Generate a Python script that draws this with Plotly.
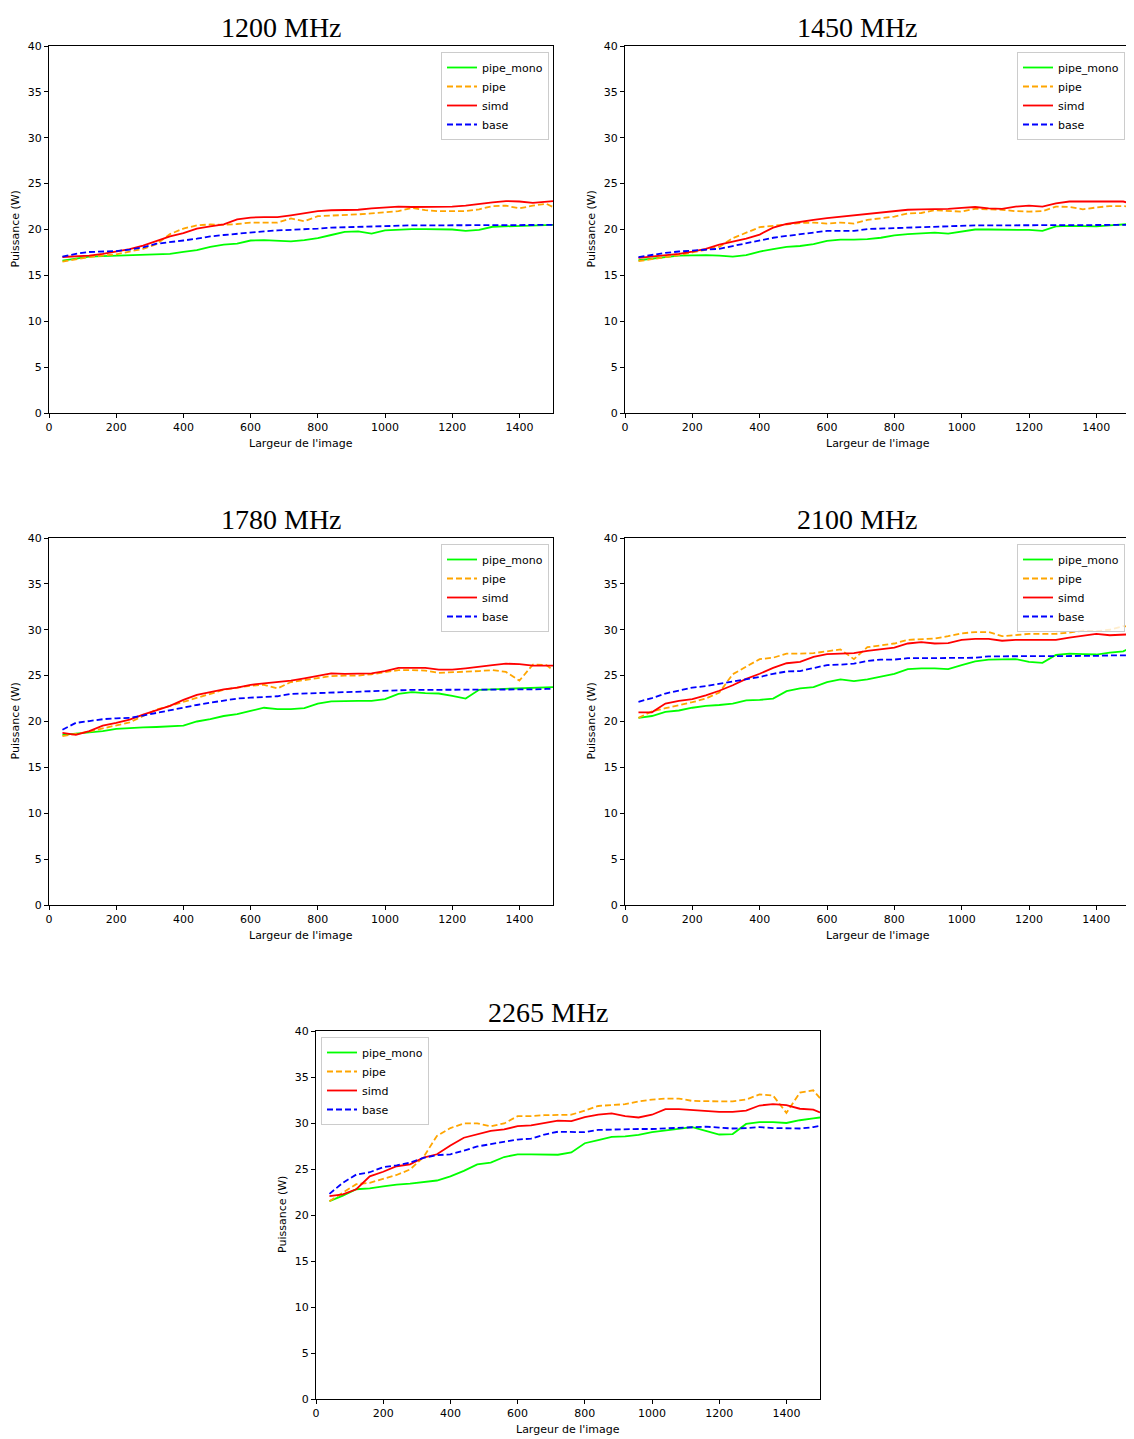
import plotly.graph_objects as go

# ---------------------------------------------------------------------------
# Données
# ---------------------------------------------------------------------------

LARGEUR = [40, 80, 120, 160, 200, 240, 280, 320, 360, 400,
           440, 480, 520, 560, 600, 640, 680, 720, 760, 800,
           840, 880, 920, 960, 1000, 1040, 1080, 1120, 1160, 1200,
           1240, 1280, 1320, 1360, 1400, 1440, 1480, 1500]

FREQUENCES = ["1200 MHz", "1450 MHz", "1780 MHz", "2100 MHz", "2265 MHz"]

PIPE_MONO_1200 = [16.6, 16.85, 17.05, 17.1, 17.15, 17.2, 17.2, 17.25, 17.35, 17.55,
                  17.75, 18.1, 18.35, 18.45, 18.8, 18.85, 18.75, 18.7, 18.85, 19.05,
                  19.4, 19.75, 19.8, 19.55, 19.9, 20.0, 20.05, 20.05, 20.05, 20.0,
                  19.85, 19.95, 20.3, 20.35, 20.35, 20.4, 20.5, 20.5]
PIPE_1200 = [16.5, 16.75, 17.0, 17.15, 17.3, 17.6, 17.9, 18.4, 19.5, 20.1,
             20.45, 20.55, 20.5, 20.6, 20.75, 20.75, 20.75, 21.2, 20.9, 21.45,
             21.5, 21.55, 21.65, 21.75, 21.9, 22.0, 22.35, 22.1, 22.0, 22.0,
             22.0, 22.2, 22.55, 22.6, 22.3, 22.6, 22.8, 22.45]
SIMD_1200 = [17.0, 17.05, 17.15, 17.35, 17.6, 17.85, 18.25, 18.75, 19.25, 19.6,
             20.1, 20.35, 20.55, 21.1, 21.3, 21.35, 21.35, 21.55, 21.8, 22.0,
             22.1, 22.15, 22.15, 22.3, 22.4, 22.5, 22.45, 22.45, 22.5, 22.5,
             22.6, 22.8, 22.95, 23.1, 23.05, 22.9, 23.05, 23.1]
BASE_1200 = [17.05, 17.35, 17.55, 17.6, 17.65, 17.8, 18.05, 18.45, 18.6, 18.8,
             19.0, 19.25, 19.4, 19.55, 19.7, 19.8, 19.9, 19.95, 20.05, 20.1,
             20.2, 20.25, 20.3, 20.35, 20.4, 20.4, 20.45, 20.45, 20.45, 20.45,
             20.45, 20.45, 20.45, 20.45, 20.45, 20.5, 20.5, 20.5]

PIPE_MONO_1450 = [16.65, 16.85, 17.0, 17.15, 17.2, 17.2, 17.15, 17.05, 17.2, 17.6,
                  17.85, 18.1, 18.2, 18.4, 18.75, 18.9, 18.9, 18.95, 19.1, 19.35,
                  19.5, 19.6, 19.65, 19.55, 19.8, 20.0, 20.0, 20.0, 20.0, 19.95,
                  19.85, 20.35, 20.4, 20.4, 20.35, 20.45, 20.55, 20.6]
PIPE_1450 = [16.55, 16.75, 16.95, 17.2, 17.5, 17.8, 18.1, 19.05, 19.65, 20.25,
             20.4, 20.55, 20.7, 20.75, 20.65, 20.75, 20.65, 21.05, 21.2, 21.4,
             21.75, 21.8, 22.1, 22.0, 21.95, 22.25, 22.2, 22.15, 22.0, 21.95,
             22.0, 22.5, 22.45, 22.2, 22.4, 22.55, 22.55, 22.5]
SIMD_1450 = [16.9, 17.05, 17.15, 17.35, 17.6, 17.9, 18.35, 18.65, 19.0, 19.45,
             20.2, 20.6, 20.85, 21.05, 21.25, 21.4, 21.55, 21.65, 21.8, 21.95,
             22.15, 22.2, 22.2, 22.25, 22.35, 22.45, 22.3, 22.25, 22.5, 22.6,
             22.5, 22.85, 23.05, 23.05, 23.1, 23.1, 23.05, 22.85]
BASE_1450 = [17.0, 17.25, 17.45, 17.6, 17.7, 17.8, 17.9, 18.2, 18.5, 18.85,
             19.1, 19.3, 19.5, 19.7, 19.85, 19.85, 19.85, 20.05, 20.1, 20.2,
             20.25, 20.3, 20.35, 20.4, 20.45, 20.45, 20.45, 20.45, 20.45, 20.45,
             20.45, 20.45, 20.45, 20.45, 20.45, 20.45, 20.45, 20.5]

PIPE_MONO_1780 = [18.55, 18.7, 18.85, 18.95, 19.2, 19.3, 19.35, 19.4, 19.45, 19.55,
                  20.0, 20.25, 20.6, 20.8, 21.15, 21.5, 21.35, 21.35, 21.45, 21.95,
                  22.2, 22.25, 22.25, 22.25, 22.45, 23.0, 23.2, 23.1, 23.05, 22.8,
                  22.5, 23.45, 23.5, 23.55, 23.6, 23.65, 23.7, 23.75]
PIPE_1780 = [18.4, 18.65, 18.9, 19.25, 19.6, 19.9, 20.6, 21.3, 21.7, 22.15,
             22.6, 23.05, 23.45, 23.7, 23.9, 24.0, 23.6, 24.3, 24.5, 24.7,
             24.95, 25.0, 25.0, 25.15, 25.4, 25.6, 25.6, 25.55, 25.3, 25.35,
             25.4, 25.5, 25.6, 25.4, 24.45, 26.2, 26.15, 25.6]
SIMD_1780 = [18.75, 18.55, 18.95, 19.55, 19.85, 20.2, 20.75, 21.2, 21.7, 22.35,
             22.9, 23.2, 23.5, 23.7, 24.0, 24.15, 24.3, 24.45, 24.7, 25.0,
             25.25, 25.2, 25.2, 25.25, 25.5, 25.85, 25.85, 25.85, 25.65, 25.65,
             25.8, 26.0, 26.15, 26.3, 26.25, 26.1, 26.1, 26.1]
BASE_1780 = [19.1, 19.85, 20.05, 20.25, 20.35, 20.4, 20.65, 20.95, 21.25, 21.5,
             21.8, 22.05, 22.25, 22.5, 22.6, 22.65, 22.75, 23.0, 23.05, 23.15,
             23.2, 23.25, 23.3, 23.3, 23.35, 23.4, 23.45, 23.45, 23.45, 23.45,
             23.45, 23.45, 23.45, 23.45, 23.45, 23.5, 23.55, 23.55]

PIPE_MONO_2100 = [20.4, 20.6, 21.05, 21.2, 21.5, 21.7, 21.8, 21.95, 22.3, 22.35,
                  22.5, 23.3, 23.6, 23.75, 24.3, 24.6, 24.4, 24.6, 24.9, 25.2,
                  25.7, 25.8, 25.8, 25.7, 26.15, 26.55, 26.75, 26.8, 26.8, 26.5,
                  26.4, 27.25, 27.4, 27.35, 27.3, 27.5, 27.65, 28.0]
PIPE_2100 = [20.4, 21.1, 21.45, 21.75, 22.1, 22.5, 23.15, 25.15, 26.0, 26.8,
             26.95, 27.4, 27.4, 27.45, 27.65, 27.85, 26.8, 28.1, 28.3, 28.5,
             28.9, 28.95, 29.05, 29.3, 29.6, 29.75, 29.75, 29.3, 29.4, 29.55,
             29.55, 29.55, 29.7, 29.9, 29.85, 30.0, 30.4, 30.3]
SIMD_2100 = [21.0, 21.0, 21.95, 22.25, 22.45, 22.85, 23.35, 23.95, 24.65, 25.2,
             25.85, 26.35, 26.5, 27.05, 27.35, 27.4, 27.45, 27.7, 27.9, 28.05,
             28.5, 28.65, 28.5, 28.55, 28.9, 29.0, 29.0, 28.8, 28.9, 28.9,
             28.9, 28.9, 29.15, 29.35, 29.55, 29.4, 29.5, 29.5]
BASE_2100 = [22.15, 22.55, 23.05, 23.4, 23.7, 23.85, 24.1, 24.35, 24.65, 24.85,
             25.2, 25.45, 25.5, 25.85, 26.15, 26.2, 26.3, 26.6, 26.75, 26.75,
             26.9, 26.9, 26.9, 26.9, 26.9, 26.95, 27.1, 27.1, 27.1, 27.1,
             27.15, 27.15, 27.15, 27.15, 27.15, 27.2, 27.2, 27.2]

PIPE_MONO_2265 = [21.5, 22.1, 22.8, 22.9, 23.1, 23.3, 23.4, 23.6, 23.75, 24.2,
                  24.8, 25.5, 25.7, 26.3, 26.6, 26.6, 26.6, 26.55, 26.8, 27.8,
                  28.15, 28.5, 28.55, 28.7, 29.0, 29.2, 29.4, 29.55, 29.15, 28.75,
                  28.8, 29.9, 30.1, 30.1, 30.0, 30.3, 30.5, 30.6]
PIPE_2265 = [21.5, 22.4, 23.35, 23.5, 23.95, 24.35, 24.95, 26.3, 28.6, 29.45,
             29.95, 29.95, 29.65, 29.95, 30.75, 30.75, 30.85, 30.9, 30.9, 31.35,
             31.85, 31.95, 32.05, 32.35, 32.55, 32.65, 32.65, 32.4, 32.35, 32.35,
             32.35, 32.55, 33.1, 33.0, 31.1, 33.3, 33.55, 32.7]
SIMD_2265 = [22.05, 22.25, 22.8, 24.2, 24.7, 25.3, 25.5, 26.25, 26.6, 27.55,
             28.4, 28.8, 29.15, 29.3, 29.65, 29.75, 30.0, 30.25, 30.2, 30.65,
             30.9, 31.05, 30.75, 30.6, 30.9, 31.5, 31.5, 31.4, 31.3, 31.2,
             31.2, 31.35, 31.9, 32.05, 31.95, 31.55, 31.45, 31.15]
BASE_2265 = [22.3, 23.5, 24.4, 24.65, 25.2, 25.4, 25.7, 26.2, 26.5, 26.6,
             27.0, 27.45, 27.7, 27.95, 28.2, 28.3, 28.75, 29.05, 29.0, 29.0,
             29.25, 29.3, 29.35, 29.35, 29.35, 29.4, 29.5, 29.55, 29.6, 29.5,
             29.4, 29.45, 29.55, 29.45, 29.45, 29.4, 29.55, 29.7]

SERIES_PAR_FREQ = [
    [PIPE_MONO_1200, PIPE_1200, SIMD_1200, BASE_1200],
    [PIPE_MONO_1450, PIPE_1450, SIMD_1450, BASE_1450],
    [PIPE_MONO_1780, PIPE_1780, SIMD_1780, BASE_1780],
    [PIPE_MONO_2100, PIPE_2100, SIMD_2100, BASE_2100],
    [PIPE_MONO_2265, PIPE_2265, SIMD_2265, BASE_2265],
]

NOMS = ["pipe_mono", "pipe", "simd", "base"]
COULEURS = ["#00ff00", "#ffa500", "#ff0000", "#0000ff"]
TIRETS = ["solid", "6px,3px", "solid", "6px,3px"]

# ---------------------------------------------------------------------------
# Mise en page (pixels de la fenêtre; la page a une marge de 8 px)
# ---------------------------------------------------------------------------

MARGE_PAGE = 8
W, H = 1134 - MARGE_PAGE, 1439 - MARGE_PAGE


def px(x):
    return (x - MARGE_PAGE) / W


def py(y):
    return 1 - (y - MARGE_PAGE) / H


# (gauche, droite, haut, bas) des zones de tracé
PANNEAUX = [(49, 553, 46, 413), (625, 1130, 46, 413),
            (49, 553, 538, 905), (625, 1130, 538, 905),
            (316, 820, 1031, 1399)]
# position des légendes (x, y, ancrage)
LEGENDES = [(549, 52, "right"), (1125, 52, "right"),
            (549, 544, "right"), (1125, 544, "right"),
            (321, 1037, "left")]

FONT = "DejaVu Sans"

fig = go.Figure()
layout = dict(
    width=W, height=H,
    margin=dict(l=0, r=0, t=0, b=0, autoexpand=False),
    paper_bgcolor="white", plot_bgcolor="white",
    font=dict(family=FONT, size=11, color="black"),
    annotations=[],
)

for i, (freq, series) in enumerate(zip(FREQUENCES, SERIES_PAR_FREQ)):
    suf = "" if i == 0 else str(i + 1)
    leg = "legend" + suf
    for nom, y, col, dash in zip(NOMS, series, COULEURS, TIRETS):
        fig.add_trace(go.Scatter(
            x=LARGEUR, y=y, name=nom, mode="lines",
            line=dict(color=col, width=1.8, dash=dash),
            xaxis="x" + suf, yaxis="y" + suf, legend=leg,
        ))

    l, r, t, b = PANNEAUX[i]
    axe = dict(showline=True, linecolor="black", linewidth=1, mirror=True,
               ticks="outside", ticklen=4, tickcolor="black", showgrid=False,
               zeroline=False, automargin=False,
               tickfont=dict(family=FONT, size=11))
    layout["xaxis" + suf] = dict(axe, domain=[px(l), px(r)], range=[0, 1500],
                                 tickvals=list(range(0, 1401, 200)),
                                 anchor="y" + suf)
    layout["yaxis" + suf] = dict(axe, domain=[py(b), py(t)], range=[0, 40],
                                 tickvals=list(range(0, 41, 5)),
                                 anchor="x" + suf)

    lx, ly, anc = LEGENDES[i]
    layout[leg] = dict(x=px(lx), y=py(ly), xanchor=anc, yanchor="top",
                       xref="paper", yref="paper",
                       bgcolor="rgba(255,255,255,0.8)", bordercolor="#cccccc",
                       borderwidth=1, font=dict(family=FONT, size=11),
                       tracegroupgap=0, itemwidth=30)

    # titre du sous-graphique
    layout["annotations"].append(dict(
        text=freq, x=px((l + r) / 2 - 20), y=py(t - 19),
        xref="paper", yref="paper", showarrow=False,
        xanchor="center", yanchor="middle",
        font=dict(family="Liberation Serif", size=28, color="black")))
    # titres des axes
    layout["annotations"].append(dict(
        text="Largeur de l'image", x=px((l + r) / 2), y=py(b + 30),
        xref="paper", yref="paper", showarrow=False,
        xanchor="center", yanchor="middle", font=dict(family=FONT, size=11)))
    layout["annotations"].append(dict(
        text="Puissance (W)", x=px(l - 34), y=py((t + b) / 2),
        xref="paper", yref="paper", showarrow=False, textangle=-90,
        xanchor="center", yanchor="middle", font=dict(family=FONT, size=11)))

fig.update_layout(**layout)
fig.write_html("out.html")
